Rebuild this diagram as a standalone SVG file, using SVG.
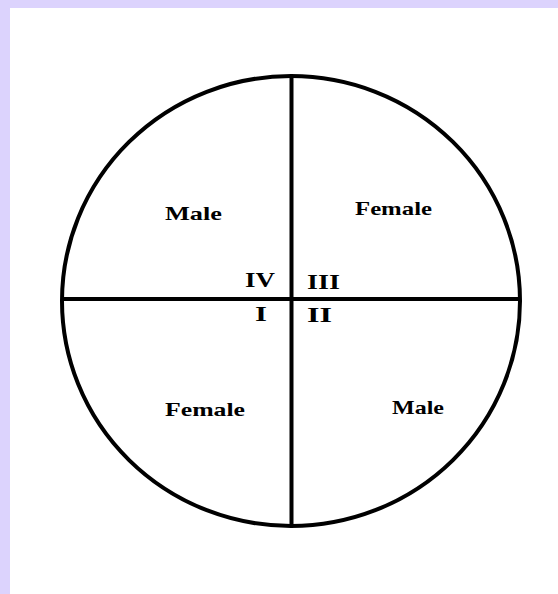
<svg xmlns="http://www.w3.org/2000/svg" width="558" height="594" viewBox="0 0 558 594">
<style>
.lbl{font-family:"Liberation Serif","Times New Roman",serif;font-weight:bold;fill:#000;}
.ln{stroke:#000;stroke-width:4;fill:none;}
</style>
<rect x="0" y="0" width="558" height="594" fill="#dcd3fd"/>
<rect x="10" y="8" width="548" height="586" fill="#fff"/>
<g id="circle">
<ellipse class="ln" cx="291" cy="301" rx="229" ry="225"/>
</g>
<g id="connectors">
<line class="ln" x1="291.5" y1="76" x2="291.5" y2="526"/>
<line class="ln" x1="62" y1="299" x2="520" y2="299"/>
</g>
<g id="q-male-tl"><text class="lbl" x="165" y="220" font-size="19" textLength="57" lengthAdjust="spacingAndGlyphs">Male</text></g>
<g id="q-female-tr"><text class="lbl" x="355" y="215" font-size="19" textLength="77" lengthAdjust="spacingAndGlyphs">Female</text></g>
<g id="q-female-bl"><text class="lbl" x="165" y="416" font-size="19" textLength="80" lengthAdjust="spacingAndGlyphs">Female</text></g>
<g id="q-male-br"><text class="lbl" x="392" y="414" font-size="19" textLength="52" lengthAdjust="spacingAndGlyphs">Male</text></g>
<g id="n-IV"><text class="lbl" x="245" y="287" font-size="20" textLength="30" lengthAdjust="spacingAndGlyphs">IV</text></g>
<g id="n-III"><text class="lbl" x="307" y="289" font-size="20" textLength="33" lengthAdjust="spacingAndGlyphs">III</text></g>
<g id="n-I"><text class="lbl" x="255" y="321" font-size="20" textLength="12" lengthAdjust="spacingAndGlyphs">I</text></g>
<g id="n-II"><text class="lbl" x="307" y="322" font-size="20" textLength="25" lengthAdjust="spacingAndGlyphs">II</text></g>
</svg>
